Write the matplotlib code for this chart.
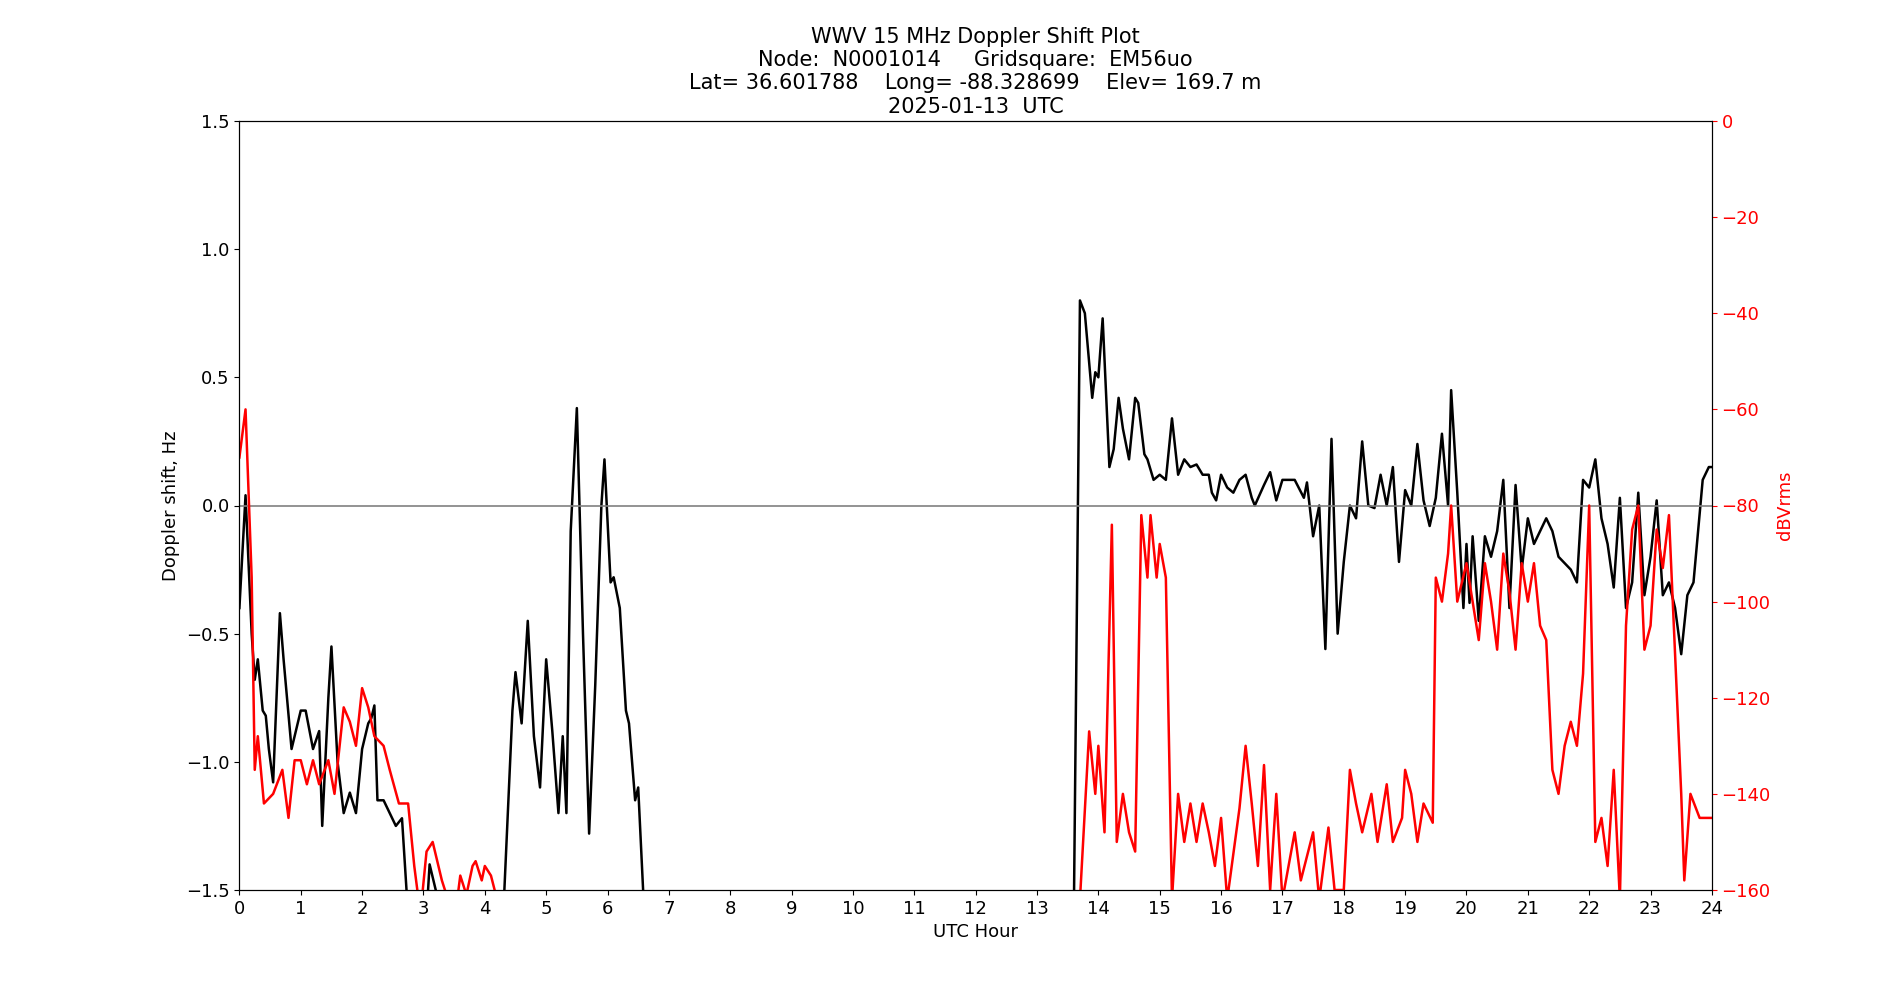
import numpy as np
import matplotlib
matplotlib.use("Agg")
import matplotlib.pyplot as plt

nan = np.nan
dop_h = [0,0.1,0.2,0.25,0.3,0.38,0.43,0.48,0.55,0.66,0.72,0.85,1.0,1.08,1.2,1.3,1.35,1.45,1.5,1.6,1.7,1.8,1.9,2.0,2.1,2.15,2.2,2.25,2.35,2.45,2.55,2.65,2.75,2.9,3.05,3.1,3.2,3.3,3.5,4.3,4.45,4.5,4.6,4.7,4.8,4.9,5.0,5.1,5.2,5.27,5.33,5.4,5.5,5.6,5.7,5.8,5.9,5.95,6.05,6.1,6.2,6.3,6.35,6.45,6.5,6.6,6.8,13.6,13.7,13.78,13.9,13.95,14.0,14.07,14.18,14.25,14.33,14.4,14.5,14.6,14.65,14.75,14.8,14.9,15.0,15.1,15.2,15.3,15.4,15.5,15.6,15.7,15.8,15.85,15.92,16.0,16.1,16.2,16.3,16.4,16.5,16.55,16.7,16.8,16.9,17.0,17.2,17.35,17.4,17.5,17.6,17.7,17.8,17.9,18.0,18.1,18.2,18.3,18.4,18.5,18.6,18.7,18.8,18.9,19.0,19.1,19.2,19.3,19.4,19.5,19.6,19.7,19.75,19.85,19.95,20.0,20.05,20.1,20.2,20.3,20.4,20.5,20.6,20.7,20.8,20.9,21.0,21.1,21.3,21.4,21.5,21.7,21.8,21.9,22.0,22.1,22.2,22.3,22.4,22.5,22.6,22.7,22.8,22.9,23.0,23.1,23.2,23.3,23.4,23.5,23.6,23.7,23.85,23.95,24.0]
dop_v = [-0.4,0.04,-0.5,-0.68,-0.6,-0.8,-0.82,-0.95,-1.08,-0.42,-0.6,-0.95,-0.8,-0.8,-0.95,-0.88,-1.25,-0.75,-0.55,-1.0,-1.2,-1.12,-1.2,-0.95,-0.85,-0.83,-0.78,-1.15,-1.15,-1.2,-1.25,-1.22,-1.6,nan,-1.6,-1.4,-1.5,-1.6,nan,-1.6,-0.8,-0.65,-0.85,-0.45,-0.9,-1.1,-0.6,-0.88,-1.2,-0.9,-1.2,-0.1,0.38,-0.5,-1.28,-0.7,0.0,0.18,-0.3,-0.28,-0.4,-0.8,-0.85,-1.15,-1.1,-1.6,nan,-1.6,0.8,0.75,0.42,0.52,0.5,0.73,0.15,0.22,0.42,0.3,0.18,0.42,0.4,0.2,0.18,0.1,0.12,0.1,0.34,0.12,0.18,0.15,0.16,0.12,0.12,0.05,0.02,0.12,0.07,0.05,0.1,0.12,0.03,0.0,0.08,0.13,0.02,0.1,0.1,0.03,0.09,-0.12,0.0,-0.56,0.26,-0.5,-0.22,0.0,-0.05,0.25,0.0,-0.01,0.12,0.0,0.15,-0.22,0.06,0.0,0.24,0.02,-0.08,0.03,0.28,0.0,0.45,0.05,-0.4,-0.15,-0.38,-0.12,-0.45,-0.12,-0.2,-0.1,0.1,-0.4,0.08,-0.25,-0.05,-0.15,-0.05,-0.1,-0.2,-0.25,-0.3,0.1,0.07,0.18,-0.05,-0.15,-0.32,0.03,-0.4,-0.3,0.05,-0.35,-0.2,0.02,-0.35,-0.3,-0.4,-0.58,-0.35,-0.3,0.1,0.15,0.15]

db_h = [0,0.1,0.2,0.25,0.3,0.4,0.55,0.7,0.8,0.9,1.0,1.1,1.2,1.3,1.45,1.55,1.7,1.8,1.9,2.0,2.1,2.2,2.35,2.45,2.6,2.75,2.85,2.95,3.05,3.15,3.3,3.4,3.48,3.55,3.6,3.7,3.8,3.85,3.95,4.0,4.1,4.2,4.3,13.7,13.85,13.95,14.0,14.1,14.22,14.3,14.4,14.5,14.6,14.7,14.8,14.85,14.95,15.0,15.1,15.2,15.3,15.4,15.5,15.6,15.7,15.8,15.9,16.0,16.1,16.3,16.4,16.5,16.6,16.7,16.8,16.9,17.0,17.2,17.3,17.5,17.6,17.75,17.85,18.0,18.1,18.2,18.3,18.45,18.55,18.7,18.8,18.95,19.0,19.1,19.2,19.3,19.45,19.5,19.6,19.7,19.75,19.85,20.0,20.1,20.2,20.3,20.4,20.5,20.6,20.7,20.8,20.9,21.0,21.1,21.2,21.3,21.4,21.5,21.6,21.7,21.8,21.9,22.0,22.1,22.2,22.3,22.4,22.5,22.6,22.7,22.8,22.9,23.0,23.1,23.2,23.3,23.5,23.55,23.65,23.8,24.0]
db_v = [-70,-60,-95,-135,-128,-142,-140,-135,-145,-133,-133,-138,-133,-138,-133,-140,-122,-125,-130,-118,-122,-128,-130,-135,-142,-142,-155,-165,-152,-150,-158,-162,nan,-162,-157,-161,-155,-154,-158,-155,-157,-162,nan,-162,-127,-140,-130,-148,-84,-150,-140,-148,-152,-82,-95,-82,-95,-88,-95,-162,-140,-150,-142,-150,-142,-148,-155,-145,-162,-143,-130,-142,-155,-134,-160,-140,-162,-148,-158,-148,-162,-147,-160,-160,-135,-142,-148,-140,-150,-138,-150,-145,-135,-140,-150,-142,-146,-95,-100,-90,-80,-100,-92,-100,-108,-92,-100,-110,-90,-98,-110,-92,-100,-92,-105,-108,-135,-140,-130,-125,-130,-115,-80,-150,-145,-155,-135,-162,-105,-85,-80,-110,-105,-85,-93,-82,-140,-158,-140,-145,-145]

xticks = list(range(25))

fig = plt.figure(figsize=(19, 10), dpi=100)
ax = fig.add_axes([0.126, 0.110, 0.775, 0.769])
ax.plot(dop_h, dop_v, color='black', lw=1.8)
ax.axhline(0, color='gray', lw=1.2)
ax.set_xlim(0, 24)
ax.set_ylim(-1.5, 1.5)
ax.set_xticks(xticks)
ax.set_xlabel('UTC Hour', fontsize=13)
ax.set_ylabel('Doppler shift, Hz', fontsize=13)
ax.tick_params(labelsize=13)
ax.set_title('WWV 15 MHz Doppler Shift Plot\nNode:  N0001014     Gridsquare:  EM56uo\n'
             'Lat= 36.601788    Long= -88.328699    Elev= 169.7 m\n2025-01-13  UTC', fontsize=15)
ax2 = ax.twinx()
ax2.plot(db_h, db_v, color='red', lw=1.8)
ax2.set_ylim(-160, 0)
ax2.set_ylabel('dBVrms', color='red', fontsize=13)
ax2.tick_params(axis='y', colors='red', labelsize=13)
fig.savefig('out.png')
